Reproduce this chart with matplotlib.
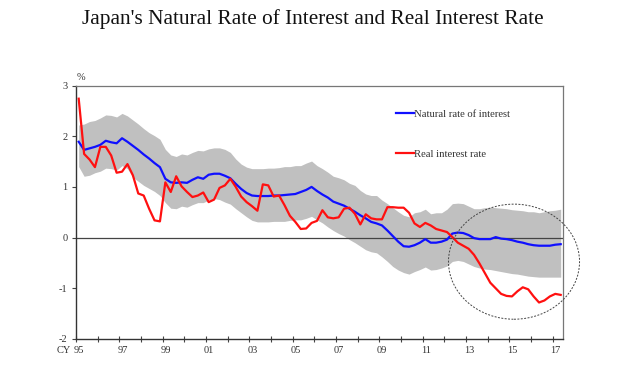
import matplotlib
matplotlib.use("Agg")
import matplotlib.pyplot as plt
import matplotlib.transforms as mtransforms
from matplotlib.patches import Ellipse
import numpy as np

plt.rcParams["font.family"] = ["Liberation Serif", "DejaVu Serif"]
plt.rcParams["axes.unicode_minus"] = False

# quarterly data, 1995Q1 .. 2017Q2 (percent)
quarters = 1995.125 + 0.25 * np.arange(90)

natural_rate = [
    1.89, 1.73, 1.76, 1.79, 1.83, 1.91, 1.88, 1.86, 1.96, 1.89,
    1.81, 1.73, 1.64, 1.56, 1.47, 1.39, 1.16, 1.09, 1.08, 1.09,
    1.08, 1.14, 1.19, 1.16, 1.24, 1.26, 1.26, 1.22, 1.17, 1.06,
    0.96, 0.88, 0.83, 0.82, 0.82, 0.82, 0.83, 0.83, 0.84, 0.85,
    0.86, 0.90, 0.94, 1.00, 0.92, 0.85, 0.79, 0.71, 0.67, 0.63,
    0.57, 0.51, 0.44, 0.38, 0.31, 0.28, 0.24, 0.14, 0.03, -0.08,
    -0.17, -0.18, -0.15, -0.10, -0.03, -0.10, -0.10, -0.08, -0.04, 0.08,
    0.10, 0.09, 0.05, -0.01, -0.03, -0.03, -0.03, 0.01, -0.02, -0.03,
    -0.05, -0.08, -0.10, -0.13, -0.15, -0.16, -0.16, -0.16, -0.14, -0.13,
]

real_rate = [
    2.74, 1.65, 1.54, 1.39, 1.79, 1.79, 1.62, 1.28, 1.30, 1.45,
    1.23, 0.87, 0.83, 0.57, 0.34, 0.32, 1.09, 0.90, 1.21, 1.01,
    0.90, 0.80, 0.83, 0.89, 0.70, 0.75, 0.98, 1.03, 1.16, 1.00,
    0.81, 0.70, 0.62, 0.53, 1.05, 1.03, 0.81, 0.83, 0.64, 0.43,
    0.31, 0.17, 0.18, 0.29, 0.33, 0.54, 0.40, 0.38, 0.40, 0.57,
    0.59, 0.47, 0.26, 0.46, 0.38, 0.36, 0.36, 0.60, 0.60, 0.59,
    0.59, 0.49, 0.28, 0.21, 0.29, 0.24, 0.17, 0.14, 0.11, 0.01,
    -0.10, -0.16, -0.22, -0.34, -0.51, -0.70, -0.89, -1.00, -1.11, -1.15,
    -1.16, -1.06, -0.98, -1.02, -1.16, -1.28, -1.24, -1.16, -1.11, -1.13,
]

band_upper = [
    2.22, 2.24, 2.29, 2.31, 2.36, 2.42, 2.41, 2.38, 2.45, 2.40,
    2.32, 2.24, 2.15, 2.07, 2.01, 1.94, 1.74, 1.63, 1.60, 1.65,
    1.63, 1.68, 1.72, 1.71, 1.75, 1.77, 1.77, 1.74, 1.68, 1.55,
    1.45, 1.39, 1.36, 1.36, 1.36, 1.37, 1.37, 1.38, 1.40, 1.40,
    1.42, 1.42, 1.47, 1.51, 1.42, 1.36, 1.29, 1.21, 1.18, 1.14,
    1.07, 1.03, 0.93, 0.86, 0.83, 0.83, 0.74, 0.67, 0.59, 0.51,
    0.44, 0.41, 0.49, 0.51, 0.56, 0.47, 0.49, 0.49, 0.56, 0.67,
    0.68, 0.67, 0.62, 0.57, 0.57, 0.59, 0.60, 0.59, 0.58, 0.57,
    0.55, 0.54, 0.53, 0.51, 0.51, 0.49, 0.51, 0.53, 0.54, 0.56,
]

band_lower = [
    1.40, 1.21, 1.23, 1.28, 1.31, 1.37, 1.36, 1.33, 1.42, 1.36,
    1.19, 1.11, 1.03, 0.97, 0.91, 0.83, 0.69, 0.58, 0.57, 0.62,
    0.60, 0.65, 0.69, 0.69, 0.74, 0.77, 0.75, 0.70, 0.66, 0.57,
    0.49, 0.41, 0.34, 0.31, 0.31, 0.31, 0.32, 0.32, 0.32, 0.34,
    0.35, 0.35, 0.38, 0.42, 0.35, 0.29, 0.21, 0.14, 0.08, 0.03,
    -0.04, -0.10, -0.17, -0.24, -0.28, -0.30, -0.38, -0.47, -0.57, -0.64,
    -0.69, -0.72, -0.67, -0.63, -0.58, -0.64, -0.63, -0.60, -0.56, -0.47,
    -0.45, -0.47, -0.52, -0.57, -0.60, -0.62, -0.63, -0.65, -0.67, -0.69,
    -0.71, -0.72, -0.74, -0.76, -0.77, -0.78, -0.78, -0.78, -0.78, -0.78,
]

years = np.arange(1995, 2018)
year_labels = [f"{y % 100:02d}" if y % 2 == 1 else "" for y in years]

TEXT = "#333333"

fig = plt.figure(figsize=(6.26, 3.67), dpi=100)
ax = fig.add_axes([0.1214, 0.0763, 0.7786, 0.6907])

ax.fill_between(quarters, band_lower, band_upper, color="#c0c0c0", lw=0, zorder=1)
ax.axhline(0, color="#444444", lw=0.9, zorder=2)
ax.plot(quarters, natural_rate, color="#1010ff", lw=1.6, zorder=3,
        label="Natural rate of interest")
ax.plot(quarters, real_rate, color="#ff1010", lw=1.6, zorder=4,
        label="Real interest rate")

# dashed circle around the recent period
circle = Ellipse((2015.22, -0.475), 6.05, 2.27, fill=False, ls=(0, (2, 1.5)),
                 lw=0.7, ec="#444444", zorder=5, clip_on=False)
ax.add_patch(circle)

ax.set_xlim(1995, 2017.5)
ax.set_ylim(-2, 3)
ax.set_xticks(years)
ax.set_xticklabels(year_labels)
ax.set_yticks(range(-2, 4))
ax.tick_params(axis="x", direction="inout", length=4, width=0.8, colors="#444444",
               labelcolor=TEXT, labelsize=7.5, pad=3)
ax.tick_params(axis="y", direction="out", length=3, width=0.8, colors="#444444",
               labelcolor=TEXT, labelsize=7.5, pad=3)

# year labels sit slightly right of their tick marks
shift = mtransforms.ScaledTranslation(3 / 100, 0, fig.dpi_scale_trans)
for lab in ax.get_xticklabels():
    lab.set_transform(lab.get_transform() + shift)

for side in ["left", "bottom"]:
    ax.spines[side].set_color("#333333")
    ax.spines[side].set_linewidth(1.0)
for side in ["top", "right"]:
    ax.spines[side].set_color("#777777")
    ax.spines[side].set_linewidth(0.9)

trans = mtransforms.blended_transform_factory(ax.transData, ax.transAxes)
down = mtransforms.ScaledTranslation(0, -5 / 72, fig.dpi_scale_trans)
ax.text(1994.75, 0, "CY", transform=trans + down, ha="right", va="top",
        fontsize=7.5, color=TEXT)
ax.text(1995.25, 1.012, "%", transform=trans, ha="center", va="bottom",
        fontsize=7.5, color=TEXT)

ax.legend(loc="upper left", bbox_to_anchor=(0.657, 0.905), frameon=False,
          fontsize=7.7, handlelength=1.65, handletextpad=0.0, labelspacing=2.85,
          borderaxespad=0, borderpad=0, labelcolor=TEXT)

fig.text(0.5, 0.948, "Japan's Natural Rate of Interest and Real Interest Rate",
         ha="center", va="center", fontsize=15.3, color="#111111")

fig.savefig("out.png", dpi=100)
